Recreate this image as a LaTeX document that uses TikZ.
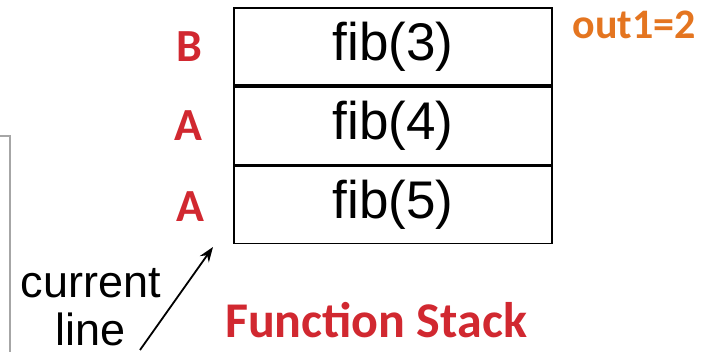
\documentclass[tikz,border=0pt]{standalone}
\usepackage{fontspec}
\setmainfont{Liberation Sans}
\newfontfamily\boldlabel{Carlito}
\usepackage{xcolor}
\usetikzlibrary{arrows.meta,positioning}

\definecolor{stackred}{RGB}{209,40,48}
\definecolor{outorange}{RGB}{228,117,32}

\begin{document}
\begin{tikzpicture}[x=1pt, y=-1pt,
    frame/.style={draw, line width=1.6pt, minimum width=318pt, minimum height=77.5pt,
                  inner sep=0pt, font=\fontsize{53}{60}\selectfont},
    retaddr/.style={text=stackred, font=\boldlabel\bfseries\fontsize{46}{50}\selectfont},
    note/.style={font=\fontsize{45}{48}\selectfont, align=center, inner sep=0pt}]
				\useasboundingbox (0,0) rectangle (717,352);
				
				% Frames on the stack
				\node[frame] (fib3) at (393,46.5) {fib(3)};
				\node[frame, below=0pt of fib3] (fib4) {fib(4)};
				\node[frame, below=0pt of fib4] (fib5) {fib(5)};
				
				% Return points
				\node[retaddr, left=27pt of fib3] (ret3) {B};
				\node[retaddr, left=27pt of fib4] (ret4) {A};
				\node[retaddr, left=25pt of fib5, yshift=-2pt] (ret5) {A};
				
				% Value returned so far
				\node[text=outorange, font=\boldlabel\bfseries\fontsize{42}{46}\selectfont] (out) at (634,25) {out1=2};
				
				% Caption
				\node[text=stackred, font=\boldlabel\bfseries\fontsize{50}{56}\selectfont] (caption) at (376,320) {Function Stack};
				
				% Pointer to the current line
				\node[note] (cur) at (91,307) {current\\line};
				\coordinate (tail) at (140,350);
				\coordinate (tip) at (213,247);
				\draw[line width=1.8pt, -{Stealth[length=15pt, width=11pt]}] (tail) -- (tip);
				
				% Edge of the code panel
				\coordinate (panel) at (10,136);
				\draw[gray!70, line width=2pt] (0,136) -- (panel) -- (10,352);
			\end{tikzpicture}
\end{document}
